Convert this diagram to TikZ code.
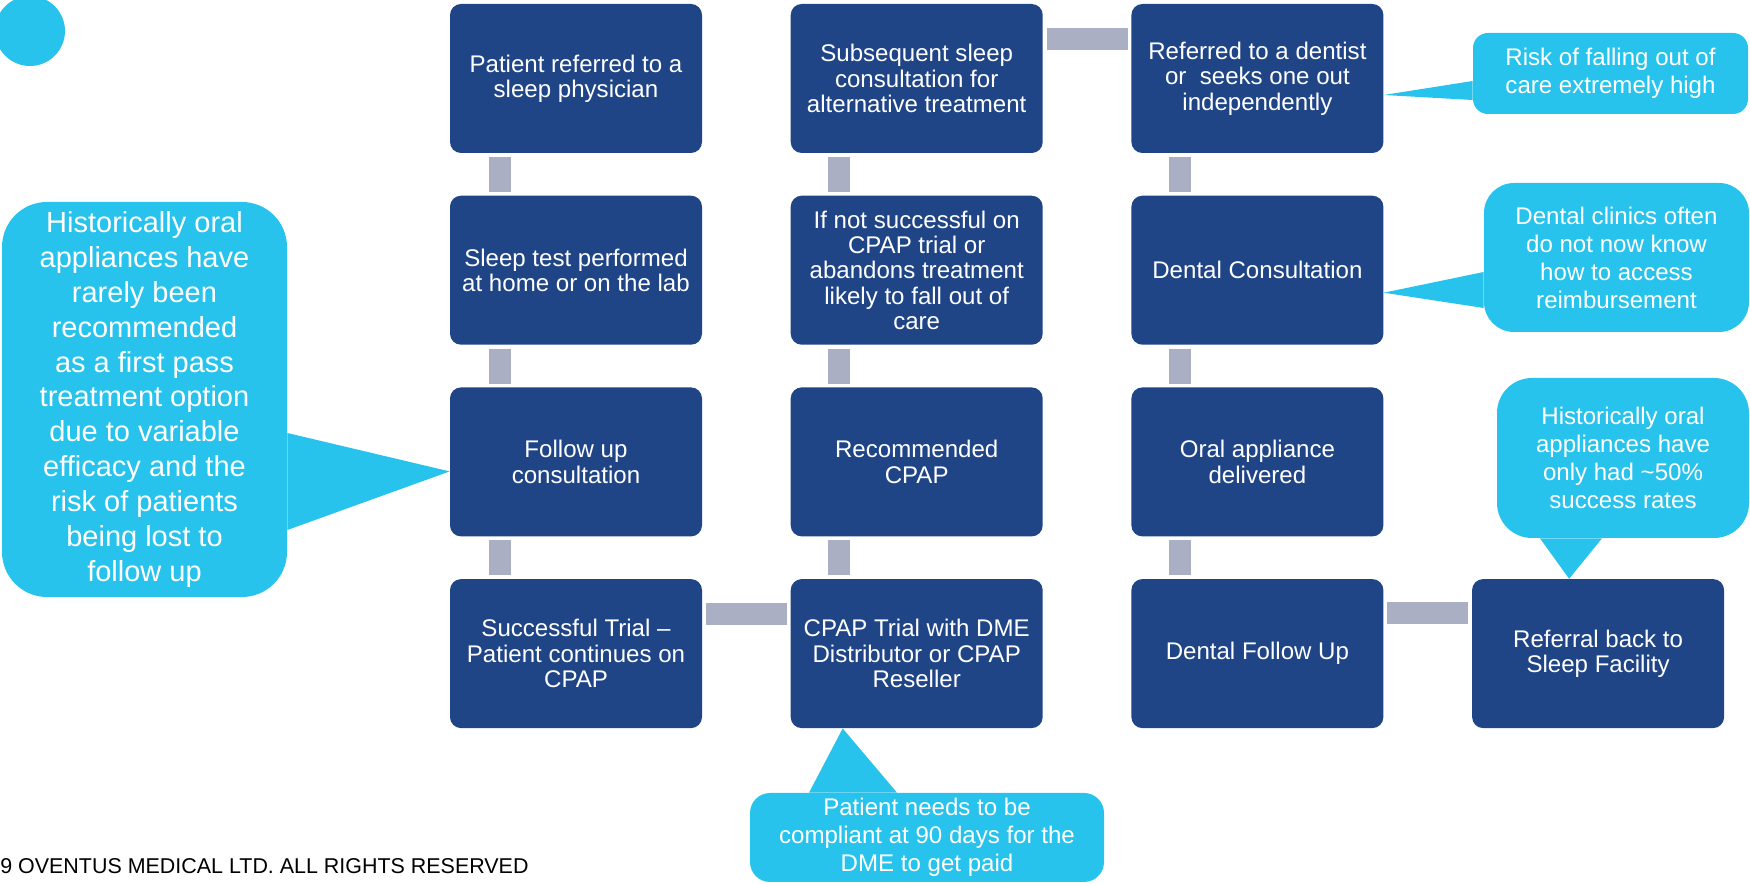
\documentclass[tikz,border=0pt]{standalone}
\usepackage{fontspec}
\setmainfont{Liberation Sans}
\usepackage{tikz}
\usetikzlibrary{positioning}
\definecolor{boxblue}{HTML}{1F4587}
\definecolor{callcyan}{HTML}{27C3EC}
\definecolor{bargray}{HTML}{AAAFC4}

\begin{document}
\begin{tikzpicture}[
    node distance=0.84cm and 1.76cm,
    stepbox/.style={fill=boxblue, rounded corners=0.22cm, minimum width=5.04cm, minimum height=2.98cm, align=center, text=white, inner sep=0pt, font=\fontsize{13.7}{14.4}\selectfont},
    note/.style={fill=callcyan, text=white, align=center, inner sep=0pt, font=\fontsize{13.7}{15.9}\selectfont},
    bar/.style={draw=bargray, line width=0.44cm, shorten <=0.07cm, shorten >=0.07cm}
]
    \useasboundingbox (0,0) rectangle (35,-17.68);
    \fill[callcyan] (0.6,-0.62) circle (0.7cm);

    % sleep physician path
    \node[stepbox] (ref) at (11.52,-1.57) {Patient referred to a\\sleep physician};
    \node[stepbox, below=of ref] (test) {Sleep test performed\\at home or on the lab};
    \node[stepbox, below=of test] (follow) {Follow up\\consultation};
    \node[stepbox, below=of follow] (success) {Successful Trial --\\Patient continues on\\CPAP};

    % CPAP path
    \node[stepbox, right=of ref] (subseq) {Subsequent sleep\\consultation for\\alternative treatment};
    \node[stepbox, below=of subseq] (notok) {If not successful on\\CPAP trial or\\abandons treatment\\likely to fall out of\\care};
    \node[stepbox, below=of notok] (rec) {Recommended\\CPAP};
    \node[stepbox, below=of rec] (trial) {CPAP Trial with DME\\Distributor or CPAP\\Reseller};

    % dental path
    \node[stepbox, right=of subseq] (dentist) {Referred to a dentist\\or~ seeks one out\\independently};
    \node[stepbox, below=of dentist] (dconsult) {Dental Consultation};
    \node[stepbox, below=of dconsult] (oral) {Oral appliance\\delivered};
    \node[stepbox, below=of oral] (dfollow) {Dental Follow Up};
    \node[stepbox, right=of dfollow] (back) {Referral back to\\Sleep Facility};

    % links
    \draw[bar] ([xshift=1cm]ref.south west) -- ([xshift=1cm]test.north west);
    \draw[bar] ([xshift=1cm]test.south west) -- ([xshift=1cm]follow.north west);
    \draw[bar] ([xshift=1cm]follow.south west) -- ([xshift=1cm]success.north west);
    \draw[bar] ([yshift=-0.7cm]trial.north west) -- ([yshift=-0.7cm]success.north east);
    \draw[bar] ([xshift=0.97cm]trial.north west) -- ([xshift=0.97cm]rec.south west);
    \draw[bar] ([xshift=0.97cm]rec.north west) -- ([xshift=0.97cm]notok.south west);
    \draw[bar] ([xshift=0.97cm]notok.north west) -- ([xshift=0.97cm]subseq.south west);
    \draw[bar] ([yshift=-0.7cm]subseq.north east) -- ([yshift=-0.7cm]dentist.north west);
    \draw[bar] ([xshift=0.97cm]dentist.south west) -- ([xshift=0.97cm]dconsult.north west);
    \draw[bar] ([xshift=0.97cm]dconsult.south west) -- ([xshift=0.97cm]oral.north west);
    \draw[bar] ([xshift=0.97cm]oral.south west) -- ([xshift=0.97cm]dfollow.north west);
    \draw[bar] ([yshift=-0.69cm]dfollow.north east) -- ([yshift=-0.69cm]back.north west);

    % callouts
    \node[note, rounded corners=0.9cm, minimum width=5.7cm, minimum height=7.9cm, font=\fontsize{16.5}{19.9}\selectfont] (history) at (2.89,-7.99)
        {Historically oral\\appliances have\\rarely been\\recommended\\as a first pass\\treatment option\\due to variable\\efficacy and the\\risk of patients\\being lost to\\follow up};
    \fill[callcyan] ([yshift=-0.67cm]history.east) -- ([yshift=-0.19cm]follow.west) -- ([yshift=-2.61cm]history.east) -- cycle;

    \node[note, rounded corners=0.3cm, minimum width=5.5cm, minimum height=1.62cm] (risk) at (32.21,-1.47)
        {Risk of falling out of\\care extremely high};
    \fill[callcyan] ([yshift=-0.15cm]risk.west) -- ([yshift=-0.33cm]dentist.east) -- ([yshift=-0.53cm]risk.west) -- cycle;

    \node[note, rounded corners=0.6cm, minimum width=5.3cm, minimum height=2.98cm] (clinics) at (32.33,-5.15)
        {Dental clinics often\\do not now know\\how to access\\reimbursement};
    \fill[callcyan] ([yshift=-0.29cm]clinics.west) -- ([yshift=-0.45cm]dconsult.east) -- ([yshift=-1.01cm]clinics.west) -- cycle;

    \node[note, rounded corners=0.7cm, minimum width=5.04cm, minimum height=3.2cm] (rates) at (32.46,-9.16)
        {Historically oral\\appliances have\\only had \textasciitilde50\%\\success rates};
    \fill[callcyan] ([xshift=-1.66cm]rates.south) -- ([xshift=-0.58cm]back.north) -- ([xshift=-0.42cm]rates.south) -- cycle;

    \node[note, rounded corners=0.4cm, minimum width=7.08cm, minimum height=1.78cm] (paid) at (18.54,-16.75)
        {Patient needs to be\\compliant at 90 days for the\\DME to get paid};
    \fill[callcyan] ([xshift=-2.36cm]paid.north) -- ([xshift=-1.48cm]trial.south) -- ([xshift=-0.6cm]paid.north) -- cycle;

    \node[anchor=west, inner sep=0pt, font=\fontsize{12.2}{14}\selectfont] (rights) at (0,-17.32) {9 OVENTUS MEDICAL LTD. ALL RIGHTS RESERVED};
\end{tikzpicture}
\end{document}
